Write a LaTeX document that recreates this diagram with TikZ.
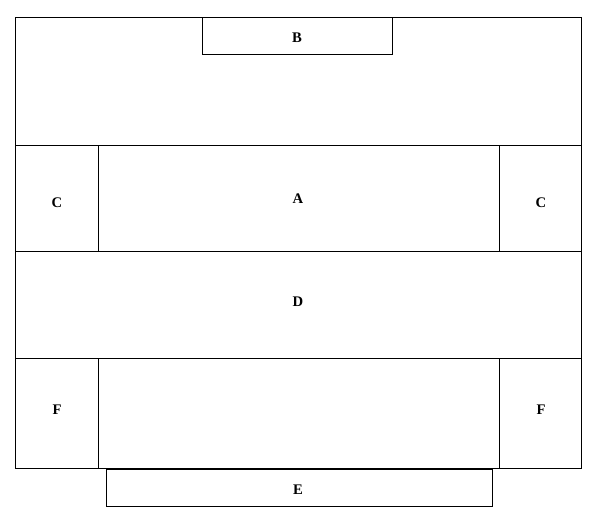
\documentclass[tikz,border=0pt]{standalone}
\usepackage{fontspec}
\setmainfont{Liberation Serif}

\begin{document}
\begin{tikzpicture}[x=0.75pt, y=-0.75pt,
    region/.style 2 args={draw, line width=0.75pt, inner sep=0pt,
      minimum width=#1*0.75pt, minimum height=#2*0.75pt},
    tag/.style={inner sep=0pt, font=\bfseries\fontsize{11}{13}\selectfont}]
    \useasboundingbox (0,0) rectangle (614,524);
    % Top band with B
    \node[region={566}{128}] (top) at (298,82) {};
    \node[region={190}{37}] (B) at (297,36.5) {};
    \node[tag] (tB) at (297,38) {B};
    % Middle row
    \node[region={83}{105}] (Cl) at (56.5,198.5) {};
    \node[region={401}{105}] (A) at (298.5,198.5) {};
    \node[region={82}{105}] (Cr) at (540,198.5) {};
    \node[tag] (tCl) at (57,203) {C};
    \node[tag] (tA) at (298,199) {A};
    \node[tag] (tCr) at (541,203) {C};
    % Band D
    \node[region={566}{107}] (D) at (298,304.5) {};
    \node[tag] (tD) at (298,302) {D};
    % Lower row
    \node[region={83}{110}] (Fl) at (56.5,413) {};
    \node[region={401}{110}] (mid) at (298.5,413) {};
    \node[region={82}{110}] (Fr) at (540,413) {};
    \node[tag] (tFl) at (57,410) {F};
    \node[tag] (tFr) at (541,410) {F};
    % Box E below
    \node[region={386}{37}] (E) at (299,487.5) {};
    \node[tag] (tE) at (298,490) {E};
\end{tikzpicture}
\end{document}
